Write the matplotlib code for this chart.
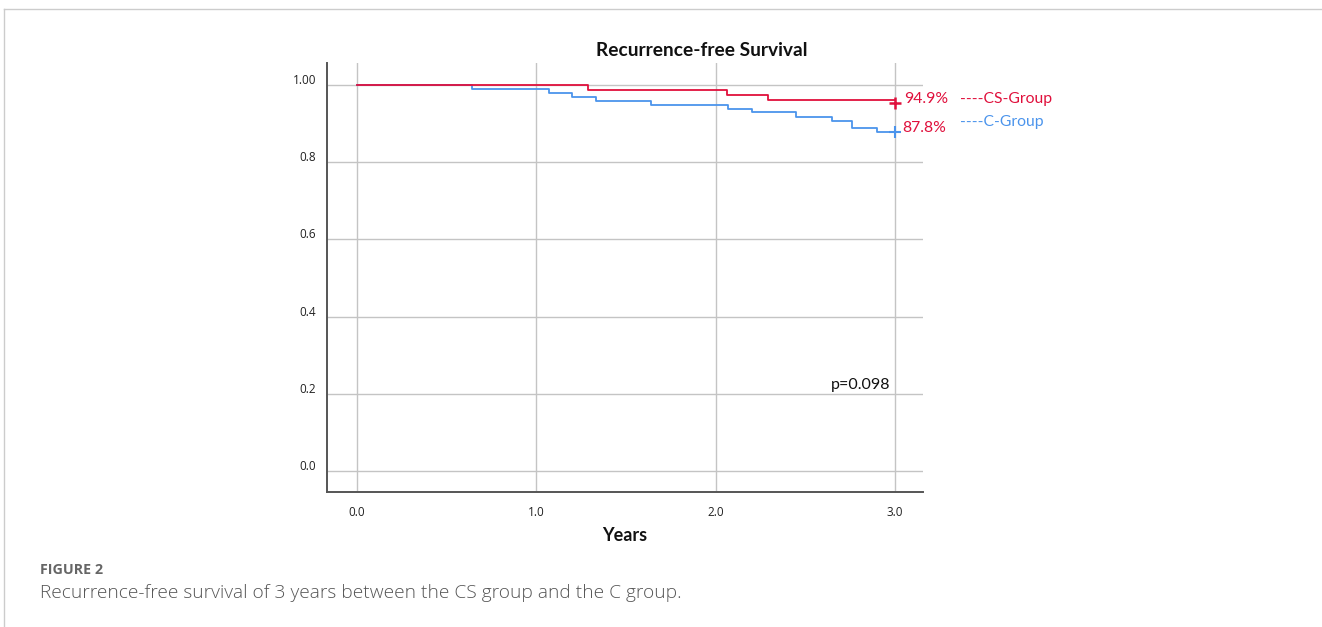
import matplotlib
matplotlib.use("Agg")
import matplotlib.pyplot as plt
from matplotlib.lines import Line2D
from matplotlib.transforms import ScaledTranslation

# step data (years, survival)
cs_times = [0.0, 1.29, 2.06, 2.29, 3.0]
cs_surv = [1.0, 0.987, 0.975, 0.962, 0.962]

c_times = [0.0, 0.64, 1.07, 1.20, 1.33, 1.64, 2.07, 2.20, 2.45, 2.65, 2.76, 2.90, 3.0]
c_surv = [1.0, 0.990, 0.979, 0.969, 0.959, 0.949, 0.939, 0.929, 0.918, 0.908, 0.888, 0.878, 0.878]

x_ticks = [0.0, 1.0, 2.0, 3.0]
x_labels = ["0.0", "1.0", "2.0", "3.0"]
y_ticks = [0.0, 0.2, 0.4, 0.6, 0.8, 1.0]
y_labels = ["0.0", "0.2", "0.4", "0.6", "0.8", "1.00"]

cs_label = "94.9%"
c_label = "87.8%"
p_text = "p=0.098"

RED = "#e0103c"
BLUE = "#4b94ec"
GRID = "#c4c4c4"

plt.rcParams["font.family"] = ["Lato", "DejaVu Sans"]

fig = plt.figure(figsize=(13.22, 6.27), dpi=100)
ax = fig.add_axes([0.2474, 0.2153, 0.4508, 0.6842])

# grid
for xt in x_ticks:
    ax.axvline(xt, color=GRID, lw=1.0, zorder=1)
for yt in y_ticks:
    ax.axhline(yt, color=GRID, lw=1.0, zorder=1)

ax.step(c_times, c_surv, where="post", color=BLUE, lw=1.3, zorder=3)
ax.step(cs_times, cs_surv, where="post", color=RED, lw=1.3, zorder=4)
ax.plot([cs_times[-1]], [cs_surv[-1] - 0.008], marker="+", ms=8, mew=1.8, color=RED, zorder=5)
ax.plot([c_times[-1]], [c_surv[-1]], marker="+", ms=8, mew=1.5, color=BLUE, zorder=5)

ax.set_xlim(-0.168, 3.156)
ax.set_ylim(-0.054, 1.057)

tick_font = ["Open Sans", "DejaVu Sans"]
ax.set_xticks(x_ticks)
ax.set_xticklabels(x_labels, fontsize=8.5, color="#222222", family=tick_font)
ax.set_yticks(y_ticks)
ax.set_yticklabels(y_labels, fontsize=8.5, color="#222222", family=tick_font)
ax.tick_params(length=0, pad=8)
ax.tick_params(axis="x", pad=10)
for lab in ax.get_yticklabels():
    lab.set_transform(lab.get_transform() + ScaledTranslation(0, 0.06, fig.dpi_scale_trans))

for s in ["top", "right"]:
    ax.spines[s].set_visible(False)
for s in ["left", "bottom"]:
    ax.spines[s].set_color("#555555")
    ax.spines[s].set_linewidth(1.4)

ax.set_xlabel("Years", fontsize=13, fontweight="bold", labelpad=6, color="#111111")

# end labels
ax.text(3.05, cs_surv[-1] + 0.003, cs_label, color=RED, fontsize=11.3, ha="left", va="center")
ax.text(3.04, c_surv[-1] + 0.011, c_label, color=RED, fontsize=11.3, ha="left", va="center")
ax.text(3.36, cs_surv[-1] + 0.003, "----CS-Group", color=RED, fontsize=11.3, ha="left", va="center", clip_on=False)
ax.text(3.36, c_surv[-1] + 0.026, "----C-Group", color=BLUE, fontsize=11.3, ha="left", va="center", clip_on=False)

ax.text(2.975, 0.222, p_text, color="#111111", fontsize=11.5, ha="right", va="center")

fig.text(702 / 1322, 1 - 51 / 627, "Recurrence-free Survival", ha="center", va="center",
         fontsize=13.8, fontweight="bold", color="#111111")

# page frame and caption
fig.add_artist(Line2D([4 / 1322, 1.0], [1 - 9 / 627, 1 - 9 / 627], transform=fig.transFigure,
                      color="#cccccc", lw=1.0))
fig.add_artist(Line2D([4 / 1322, 4 / 1322], [0.0, 1 - 9 / 627], transform=fig.transFigure,
                      color="#cccccc", lw=1.0))
fig.text(40 / 1322, 1 - 570 / 627, "FIGURE 2", ha="left", va="center", fontsize=10.3,
         color="#666666", fontweight="bold", family=["Open Sans", "DejaVu Sans"])
fig.text(40 / 1322, 1 - 593 / 627, "Recurrence-free survival of 3 years between the CS group and the C group.",
         ha="left", va="center", fontsize=13.8, color="#555555", fontweight=300,
         family=["Open Sans", "DejaVu Sans"])

fig.savefig("out.png", dpi=100, facecolor="white")
